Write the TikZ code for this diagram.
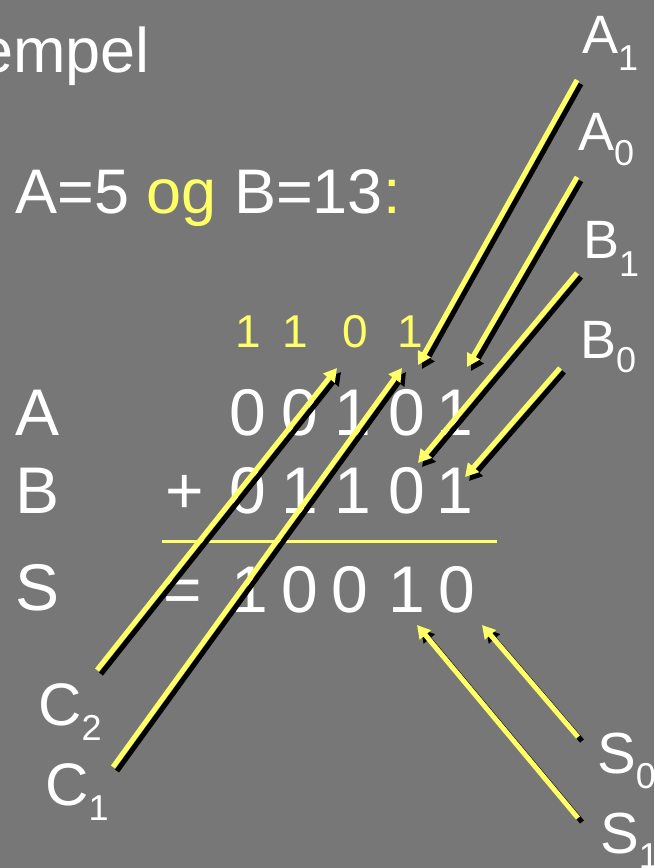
\documentclass[tikz,border=0pt]{standalone}
\usepackage{fontspec}
\setmainfont{Liberation Sans}
\usepackage{xcolor}
\definecolor{slidegray}{HTML}{777777}
\definecolor{hiyellow}{HTML}{FFFF66}
\usetikzlibrary{arrows.meta}
\newcommand{\bitlbl}[3]{#1\raisebox{-#3}{\fontsize{36}{36}\selectfont #2}}

\begin{document}
\begin{tikzpicture}[x=1pt, y=-1pt,
	big/.style={text=white, inner sep=0pt, font=\fontsize{63}{63}\selectfont},
	digit/.style={text=white, inner sep=0pt, anchor=base, font=\fontsize{66}{66}\selectfont},
	carry/.style={text=hiyellow, inner sep=0pt, anchor=base, font=\fontsize{46}{46}\selectfont},
	sig/.style={text=white, inner sep=0pt, anchor=base west, font=\fontsize{54}{54}\selectfont},
	arr/.style={draw=hiyellow, line width=5pt, -{Triangle[length=13pt,width=14pt]}},
	arrshadow/.style={arr, draw=black}
	]
	\fill[slidegray] (0,0) rectangle (654,868);
	\useasboundingbox (0,0) rectangle (654,868);

	\node[big, anchor=base east] (title) at (150,72) {empel};
	\node[big, anchor=base west] (given) at (15,213)
	     {A=5 \textcolor{hiyellow}{og} B=13\textcolor{hiyellow}{:}};

	% carries
	\foreach \d/\x [count=\i] in {1/248, 1/295, 0/355, 1/410}
		\node[carry] (c\i) at (\x,347) {\d};

	% the sum
	\node[digit, anchor=base west] (lblA) at (15,435) {A};
	\node[digit, anchor=base west] (lblB) at (15,513) {B};
	\node[digit, anchor=base west] (lblS) at (15,610) {S};
	\node[digit] (plus) at (185,513) {+};
	\node[digit] (eq) at (183,612) {=};
	\foreach \d/\x [count=\i] in {0/248, 0/300, 1/353, 0/407, 1/455}
		\node[digit] (a\i) at (\x,435) {\d};
	\foreach \d/\x [count=\i] in {0/248, 1/300, 1/353, 0/407, 1/455}
		\node[digit] (b\i) at (\x,513) {\d};
	\foreach \d/\x [count=\i] in {1/250, 0/300, 0/350, 1/407, 0/457}
		\node[digit] (s\i) at (\x,612) {\d};
	\coordinate (ruleL) at (162,541);
	\coordinate (ruleR) at (497,541);
	\draw[hiyellow, line width=3pt] (ruleL) -- (ruleR);

	% signal names
	\node[sig] (A1) at (582,53) {\bitlbl{A}{1}{17pt}};
	\node[sig] (A0) at (578,150) {\bitlbl{A}{0}{15pt}};
	\node[sig] (B1) at (583,258) {\bitlbl{B}{1}{18pt}};
	\node[sig] (B0) at (580,358) {\bitlbl{B}{0}{14pt}};
	\node[sig, font=\fontsize{60}{60}\selectfont] (C2) at (38,725) {\bitlbl{C}{2}{15pt}};
	\node[sig, font=\fontsize{60}{60}\selectfont] (C1) at (45,805) {\bitlbl{C}{1}{15pt}};
	\node[sig, font=\fontsize{58}{58}\selectfont] (S0) at (597,773) {\bitlbl{S}{0}{15pt}};
	\node[sig, font=\fontsize{58}{58}\selectfont] (S1) at (600,853) {\bitlbl{S}{1}{15pt}};

	\coordinate (A1from) at (577,80);   \coordinate (A1to) at (418,365);
	\coordinate (A0from) at (577,177);  \coordinate (A0to) at (467,367);
	\coordinate (B1from) at (577,273);  \coordinate (B1to) at (418,463);
	\coordinate (B0from) at (560,368);  \coordinate (B0to) at (465,477);
	\coordinate (C2from) at (97,670);   \coordinate (C2to) at (337,368);
	\coordinate (C1from) at (113,767);  \coordinate (C1to) at (402,368);
	\coordinate (S0from) at (578,737);  \coordinate (S0to) at (482,625);
	\coordinate (S1from) at (578,818);  \coordinate (S1to) at (417,625);

	\foreach \n in {A1, A0, B1, B0, C2, C1, S0, S1}
		\draw[arrshadow] ([shift={(4,4)}]\n from) -- ([shift={(4,4)}]\n to);
	\foreach \n in {A1, A0, B1, B0, C2, C1, S0, S1}
		\draw[arr] (\n from) -- (\n to);
\end{tikzpicture}
\end{document}
